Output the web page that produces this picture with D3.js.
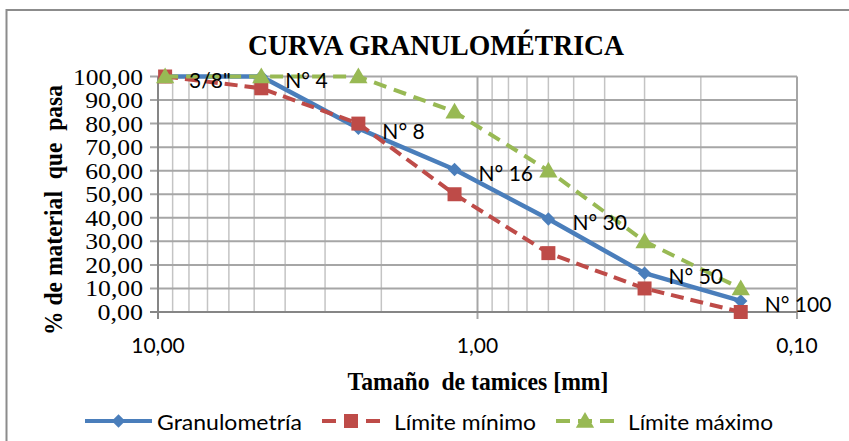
<!DOCTYPE html>
<html>
<head>
<meta charset="utf-8">
<script src="https://cdn.jsdelivr.net/npm/d3@7"></script>
<style>
  html, body { margin: 0; padding: 0; background: #fff; }
  svg { display: block; }
  text { white-space: pre; }
</style>
</head>
<body>
<svg id="chart" width="849" height="441"></svg>
<script>
// ---- data ----
const sieveLabels = ['3/8"', 'N° 4', 'N° 8', 'N° 16', 'N° 30', 'N° 50', 'N° 100'];
const sieveSizes = [9.5, 4.75, 2.36, 1.18, 0.6, 0.3, 0.15];
const granulometria = [100, 100, 78, 60.5, 39.5, 16.5, 4.7];
const limiteMinimo = [100, 95, 80, 50, 25, 10, 0];
const limiteMaximo = [100, 100, 100, 85, 60, 30, 10];
const yTickValues = [0, 10, 20, 30, 40, 50, 60, 70, 80, 90, 100];
const xTickValues = [10, 1, 0.1];
const xMinorValues = [9, 8, 7, 6, 5, 4, 3, 2, 0.9, 0.8, 0.7, 0.6, 0.5, 0.4, 0.3, 0.2];
const seriesNames = ['Granulometría', 'Límite mínimo', 'Límite máximo'];
const titleText = 'CURVA GRANULOMÉTRICA';
const xTitle = 'Tamaño  de tamices [mm]';
const yTitle = '% de material  que  pasa';

// ---- layout ----
const svg = d3.select('#chart');
const x = d3.scaleLog().domain([10, 0.1]).range([158, 797]);
const y = d3.scaleLinear().domain([0, 100]).range([312, 76.5]);
const fmt = v => d3.format('.2f')(v).replace('.', ',');

const colors = ['#4a7ebb', '#be4b48', '#98b954'];
const sansFont = 'Lato, "Open Sans", sans-serif';
const serifFont = '"Liberation Serif", "DejaVu Serif", serif';

// chart border
svg.append('rect').attr('x', 6.5).attr('y', 10).attr('width', 900).attr('height', 500)
  .attr('fill', 'none').attr('stroke', '#8c8c8c').attr('stroke-width', 2);

// title
svg.append('text').attr('x', 436).attr('y', 55).attr('text-anchor', 'middle')
  .attr('font-family', serifFont).attr('font-weight', 'bold').attr('font-size', 30)
  .attr('textLength', 376).attr('lengthAdjust', 'spacingAndGlyphs')
  .attr('fill', '#000').text(titleText);

const g = svg.append('g');

// vertical minor grid
g.selectAll('line.vminor').data(xMinorValues).join('line')
  .attr('x1', d => x(d)).attr('x2', d => x(d))
  .attr('y1', y(100)).attr('y2', y(0))
  .attr('stroke', '#c4c4c4').attr('stroke-width', 1.5);

// vertical major grid (1, 0.1)
g.selectAll('line.vmajor').data(xTickValues.slice(1)).join('line')
  .attr('x1', d => x(d)).attr('x2', d => x(d))
  .attr('y1', y(100)).attr('y2', y(0) + 7)
  .attr('stroke', '#a6a6a6').attr('stroke-width', 2);

// horizontal grid (with left ticks)
g.selectAll('line.hgrid').data(yTickValues.slice(1)).join('line')
  .attr('x1', 150).attr('x2', 797)
  .attr('y1', d => y(d)).attr('y2', d => y(d))
  .attr('stroke', '#a6a6a6').attr('stroke-width', 2);

// axes lines
g.append('line').attr('x1', 150).attr('x2', 797).attr('y1', y(0)).attr('y2', y(0))
  .attr('stroke', '#868686').attr('stroke-width', 2);
g.append('line').attr('x1', x(10)).attr('x2', x(10)).attr('y1', y(100)).attr('y2', y(0) + 7)
  .attr('stroke', '#868686').attr('stroke-width', 2);

// y tick labels
g.selectAll('text.ytick').data(yTickValues).join('text')
  .attr('x', 143).attr('y', d => y(d) + 8)
  .attr('text-anchor', 'end')
  .attr('font-family', serifFont).attr('font-size', 24).attr('fill', '#000')
  .attr('textLength', d => (fmt(d).length - 1) * 12.3 + 8.5)
  .attr('lengthAdjust', 'spacingAndGlyphs')
  .text(d => fmt(d));

// x tick labels
g.selectAll('text.xtick').data(xTickValues).join('text')
  .attr('x', d => x(d)).attr('y', 353)
  .attr('text-anchor', 'middle')
  .attr('font-family', sansFont).attr('font-size', 21).attr('fill', '#000')
  .text(d => fmt(d));

// axis titles
svg.append('text').attr('x', 478).attr('y', 390).attr('text-anchor', 'middle')
  .attr('font-family', serifFont).attr('font-weight', 'bold').attr('font-size', 26)
  .attr('textLength', 261).attr('lengthAdjust', 'spacingAndGlyphs')
  .attr('fill', '#000').text(xTitle);

svg.append('text').attr('transform', 'translate(62,210) rotate(-90)')
  .attr('text-anchor', 'middle')
  .attr('font-family', serifFont).attr('font-weight', 'bold').attr('font-size', 26)
  .attr('textLength', 250).attr('lengthAdjust', 'spacingAndGlyphs')
  .attr('fill', '#000').text(yTitle);

// series
const seriesValues = [granulometria, limiteMinimo, limiteMaximo];
const dashes = [null, '13,7', '13,8'];
const symbols = [
  d3.symbol().type(d3.symbolDiamond2).size(115),
  d3.symbol().type(d3.symbolSquare).size(196),
  d3.symbol().type(d3.symbolTriangle).size(145)
];
const line = d3.line().x(d => x(d[0])).y(d => y(d[1]));

seriesValues.forEach((vals, i) => {
  const pts = sieveSizes.map((s, j) => [s, vals[j]]);
  const sg = g.append('g');
  sg.append('path').datum(pts).attr('d', line)
    .attr('fill', 'none').attr('stroke', colors[i]).attr('stroke-width', i === 0 ? 4.5 : 4)
    .attr('stroke-dasharray', dashes[i]).attr('stroke-linejoin', 'round');
  sg.selectAll('path.m').data(pts).join('path')
    .attr('transform', d => `translate(${x(d[0])},${y(d[1]) + (i === 2 ? 1.5 : 0)})`)
    .attr('d', symbols[i]).attr('fill', colors[i]);
});

// data labels
g.selectAll('text.lbl').data(sieveSizes).join('text')
  .attr('x', d => x(d) + 24)
  .attr('y', (d, j) => y(granulometria[j]) + 11)
  .attr('font-family', sansFont).attr('font-size', 21).attr('fill', '#000')
  .text((d, j) => sieveLabels[j]);

// legend
const legendItems = [
  { x1: 85, x2: 152, tx: 157, w: 145 },
  { x1: 322, x2: 380, tx: 394, w: 142 },
  { x1: 556, x2: 614, tx: 628, w: 145 }
];
const ly = 421;
legendItems.forEach((it, i) => {
  const lg = svg.append('g');
  lg.append('line').attr('x1', it.x1).attr('x2', it.x2).attr('y1', ly).attr('y2', ly)
    .attr('stroke', colors[i]).attr('stroke-width', 4)
    .attr('stroke-dasharray', i === 0 ? null : '14,8');
  lg.append('path').attr('transform', `translate(${(it.x1 + it.x2) / 2},${ly + (i === 2 ? 1.5 : 0)})`)
    .attr('d', symbols[i]).attr('fill', colors[i]);
  lg.append('text').attr('x', it.tx).attr('y', ly + 8.5)
    .attr('font-family', sansFont).attr('font-size', 22).attr('fill', '#000')
    .attr('textLength', it.w).attr('lengthAdjust', 'spacingAndGlyphs')
    .text(seriesNames[i]);
});
</script>
</body>
</html>
